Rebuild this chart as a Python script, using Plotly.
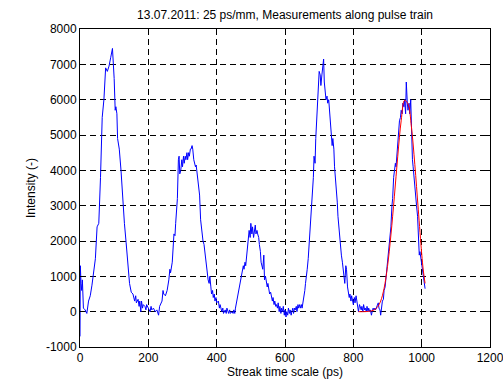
import plotly.graph_objects as go

title_text = "13.07.2011: 25 ps/mm, Measurements along pulse train"
x_label = "Streak time scale (ps)"
y_label = "Intensity (-)"

t_ps = [0, 1, 3, 5, 7, 10, 15, 20, 25, 30, 35, 40, 45, 50, 55, 60, 65, 70, 75, 80,
        85, 90, 95, 100, 103, 105, 108, 110, 115, 120, 125, 130, 135, 140, 145, 150, 155, 160, 163, 165,
        170, 173, 175, 178, 180, 183, 185, 190, 193, 195, 200, 205, 208, 210, 215, 220, 225, 230, 233, 235,
        240, 243, 245, 250, 255, 260, 263, 265, 270, 275, 278, 280, 285, 288, 290, 292, 295, 298, 300, 303,
        305, 308, 310, 313, 315, 318, 320, 323, 325, 328, 330, 333, 335, 338, 340, 343, 345, 348, 350, 353,
        355, 358, 360, 363, 365, 368, 370, 373, 375, 378, 380, 383, 385, 388, 390, 393, 395, 398, 400, 405,
        408, 410, 415, 418, 420, 425, 428, 430, 435, 438, 440, 445, 448, 450, 453, 455, 458, 460, 463, 465,
        470, 473, 475, 478, 480, 483, 485, 488, 490, 493, 495, 498, 500, 503, 505, 508, 510, 513, 515, 518,
        520, 523, 525, 528, 530, 533, 535, 538, 540, 543, 545, 548, 550, 553, 555, 558, 560, 563, 565, 568,
        570, 573, 575, 578, 580, 583, 585, 588, 590, 593, 595, 598, 600, 603, 605, 608, 610, 613, 615, 618,
        620, 623, 625, 628, 630, 633, 635, 638, 640, 643, 645, 648, 650, 653, 655, 658, 660, 663, 665, 668,
        670, 673, 675, 678, 680, 683, 685, 688, 690, 693, 695, 698, 700, 703, 705, 708, 710, 713, 715, 718,
        720, 723, 725, 728, 730, 733, 735, 738, 740, 743, 745, 748, 750, 753, 755, 758, 760, 763, 765, 768,
        770, 773, 775, 778, 780, 783, 785, 788, 790, 793, 795, 798, 800, 803, 805, 808, 810, 813, 815, 818,
        820, 823, 825, 828, 830, 833, 835, 838, 840, 843, 845, 848, 850, 853, 855, 858, 860, 863, 865, 868,
        870, 873, 875, 878, 880, 883, 885, 888, 890, 893, 895, 898, 900, 903, 905, 908, 910, 913, 915, 918,
        920, 923, 925, 928, 930, 933, 935, 938, 940, 943, 945, 948, 950, 953, 955, 958, 960, 963, 965, 968,
        970, 973, 975, 978, 980, 983, 985, 988, 990, 993, 995, 998, 1000, 1003, 1005, 1008, 1010]

intensity = [-700, 1300, 800, 600, 900, 100, 50, -50, 300, 450, 750, 1100, 1500, 2400, 2500, 3800, 5500, 6000, 6900, 6800,
             6950, 7200, 7450, 6600, 5700, 5800, 5600, 4900, 4600, 4000, 3100, 2500, 1950, 1300, 800, 550, 500, 300, 450, 250,
             350, 150, 300, 0, 300, 100, 200, 150, 50, 200, 100, 0, 150, 50, 100, 0, 50, -100, 150, 200,
             300, 600, 500, 450, 600, 900, 1200, 1100, 1400, 2200, 2150, 2500, 3200, 4300, 4400, 3900, 4000, 4300, 4100, 4400,
             4200, 4400, 4300, 4500, 4300, 4500, 4400, 4600, 4600, 4700, 4600, 4300, 4200, 4100, 4150, 3900, 3700, 3600, 3300, 2600,
             2400, 2300, 2000, 1900, 1700, 1400, 1300, 1000, 900, 800, 1000, 700, 500, 600, 400, 500, 300, 400, 250, 300,
             100, 200, 0, 100, -50, 50, -50, 100, -50, 50, -50, 0, -50, 50, -50, 100, 250, 400, 500, 600,
             800, 1000, 1100, 1300, 1200, 1400, 1300, 1600, 2000, 2100, 2300, 2100, 2500, 2200, 2400, 2100, 2300, 2450, 2200, 2300,
             2200, 2100, 1900, 1700, 1400, 1300, 1200, 1600, 900, 1000, 900, 700, 800, 600, 500, 550, 400, 300, 400, 200,
             300, 150, 200, 100, 250, 0, 150, -50, 100, 0, 150, -100, 50, -150, 0, -100, 100, -50, 50, -100,
             0, 100, -50, 100, 50, 150, 0, 200, 100, 200, 100, 200, 100, 250, 400, 600, 800, 1000, 1200, 1500,
             1800, 2100, 2500, 3000, 3300, 3800, 4400, 4200, 4900, 5600, 6000, 6500, 6800, 6700, 6400, 6700, 7000, 7150, 6500, 6200,
             6000, 6100, 5900, 6000, 5700, 5400, 5000, 4700, 4900, 4600, 4100, 3800, 3500, 3100, 2700, 2300, 2100, 1800, 1600, 1400,
             1200, 1000, 800, 1300, 1200, 700, 600, 400, 500, 300, 450, 300, 200, 400, 250, 450, 300, 200, 0, 200,
             100, 50, 150, 0, 200, 50, 100, 0, 150, 0, 100, 0, 50, -100, 0, 100, 50, 100, 50, 150,
             200, 250, 100, 50, -100, 150, 300, 350, 600, 700, 900, 1000, 1300, 1500, 1700, 2100, 2400, 3000, 3200, 3800,
             4000, 4200, 4100, 4500, 4600, 5000, 5400, 5500, 5700, 5600, 5900, 5800, 6000, 5600, 6500, 5900, 5700, 5900, 5600, 6000,
             5000, 4300, 4100, 3700, 3600, 3300, 3000, 2700, 2200, 1600, 1700, 1500, 1400, 1200, 1000, 900, 650]

fit_t = [815, 830, 845, 860, 870, 880, 890, 900, 910, 920, 930, 940, 950, 960, 970, 980, 990, 1000, 1005, 1010]
fit_y = [0, 0, 10, 45, 120, 300, 660, 1280, 2170, 3250, 4400, 5400, 5980, 5880, 5230, 4160, 2900, 1650, 1150, 800]

x_ticks = [0, 200, 400, 600, 800, 1000, 1200]
y_ticks = [-1000, 0, 1000, 2000, 3000, 4000, 5000, 6000, 7000, 8000]

fig = go.Figure()
fig.add_trace(go.Scatter(x=t_ps, y=intensity, mode="lines",
                         line=dict(color="#0000ff", width=1), showlegend=False))
fig.add_trace(go.Scatter(x=fit_t, y=fit_y, mode="lines", line_shape="spline",
                         line=dict(color="#ff0000", width=1), showlegend=False))

font_family = "Liberation Sans, Arial, sans-serif"
axis_common = dict(
    showline=True, linecolor="black", linewidth=1, mirror="allticks",
    ticks="inside", ticklen=4, tickcolor="black", tickwidth=1,
    showgrid=True, gridcolor="black", gridwidth=1, griddash="6px,4px",
    zeroline=False, automargin=False, ticklabeloverflow="allow",
    tickfont=dict(family=font_family, size=12, color="black"),
)

fig.update_layout(
    width=503, height=381,
    margin=dict(l=80, r=13, t=29, b=34),
    paper_bgcolor="white", plot_bgcolor="white",
    font=dict(family=font_family, size=12, color="black"),
    title=dict(text=title_text, x=0.5667, xanchor="center", y=0.962, yanchor="middle",
               font=dict(family=font_family, size=12, color="black")),
    xaxis=dict(range=[0, 1200], tickvals=x_ticks, ticktext=[str(v) for v in x_ticks],
               title=dict(text=x_label, standoff=3, font=dict(family=font_family, size=12)),
               **axis_common),
    yaxis=dict(range=[-1000, 8000], tickvals=y_ticks, ticktext=[str(v) for v in y_ticks],
               title=dict(text=y_label, standoff=7, font=dict(family=font_family, size=12)),
               **axis_common),
)

fig.write_html("out.html")
